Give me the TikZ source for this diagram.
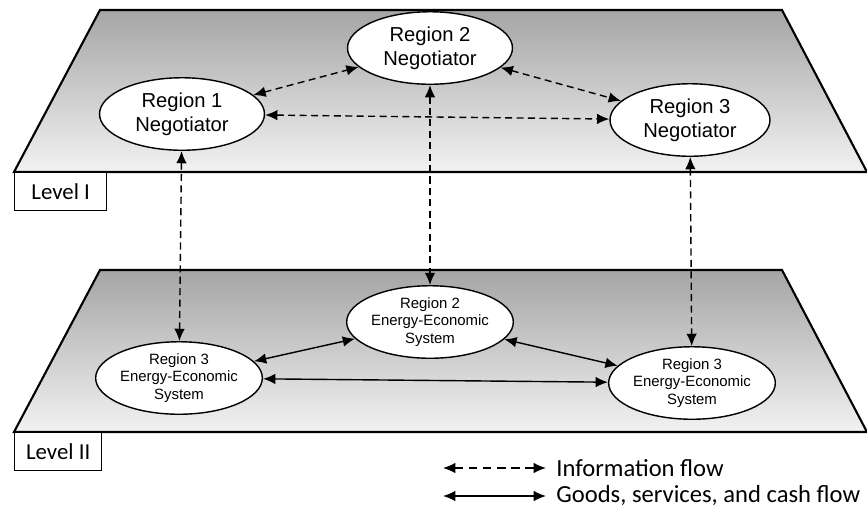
\documentclass[tikz,border=0pt]{standalone}
\usepackage{fontspec}
\setmainfont{Liberation Sans}
\newfontfamily\calib{Carlito}
\usetikzlibrary{shapes.geometric,arrows.meta}

\tikzset{
  plane/.style={draw, line width=1.2pt, top color={rgb,255:red,165;green,165;blue,165}, bottom color={rgb,255:red,242;green,242;blue,242}},
  negot/.style={ellipse, draw, thick, fill=white, minimum width=3.3cm, minimum height=1.45cm, align=center, font=\fontsize{11.5}{13.5}\selectfont, inner sep=0pt},
  enecon/.style={ellipse, draw, thick, fill=white, minimum width=3.2cm, minimum height=1.45cm, align=center, font=\fontsize{8.5}{10}\selectfont, inner sep=0pt},
  lvl/.style={draw, thick, fill=white, anchor=north west, inner sep=3pt, font=\calib\fontsize{13}{15}\selectfont},
  info/.style={thick, dash pattern=on 4pt off 2.5pt, {Latex[length=7pt,width=6pt]}-{Latex[length=7pt,width=6pt]}},
  goods/.style={thick, {Latex[length=7pt,width=6pt]}-{Latex[length=7pt,width=6pt]}}
}

\begin{document}
\begin{tikzpicture}[x=0.02cm,y=-0.02cm]
\useasboundingbox (0,0) rectangle (867,512);

% Level I plane
\draw [plane] (100,10) -- (782,10) -- (867,172) -- (14,172) -- cycle;
\node[lvl, minimum width=1.84cm, minimum height=0.76cm] (lvlI) at (14,172) {Level I};

% Level II plane
\draw [plane] (100,270) -- (782,270) -- (867,432) -- (14,432) -- cycle;
\node[lvl, minimum width=1.74cm, minimum height=0.76cm] (lvlII) at (14,432) {Level II};

% negotiators
\node[negot] (neg2) at (430,48) {Region 2\\Negotiator};
\node[negot] (neg1) at (182,114) {Region 1\\Negotiator};
\node[negot, minimum width=3.2cm] (neg3) at (690,120) {Region 3\\Negotiator};

% energy-economic systems
\node[enecon] (ees2) at (430,322) {Region 2\\Energy-Economic\\System};
\node[enecon] (ees1) at (179,378) {Region 3\\Energy-Economic\\System};
\node[enecon, minimum width=3.0cm] (ees3) at (692,383) {Region 3\\Energy-Economic\\System};

% information flow
\draw [info] (neg1) -- (neg2);
\draw [info] (neg2) -- (neg3);
\draw [info] (neg1) -- (neg3);
\draw [info] (neg1) -- (ees1);
\draw [info] (neg2) -- (ees2);
\draw [info] (neg3) -- (ees3);

% goods, services and cash flow
\draw [goods] (ees1) -- (ees2);
\draw [goods] (ees2) -- (ees3);
\draw [goods] (ees1) -- (ees3);

% legend
\coordinate (ia) at (443,468);
\coordinate (ib) at (546,468);
\coordinate (ga) at (443,496);
\coordinate (gb) at (546,496);
\draw [info, dash pattern=on 5pt off 3pt] (ia) -- (ib);
\draw [goods] (ga) -- (gb);
\node[anchor=west, inner sep=0pt, font=\calib\fontsize{14}{16}\selectfont] (infotxt) at (556,468) {Information flow};
\node[anchor=west, inner sep=0pt, font=\calib\fontsize{14}{16}\selectfont] (goodstxt) at (556,496) {Goods, services, and cash flow};
\end{tikzpicture}
\end{document}
